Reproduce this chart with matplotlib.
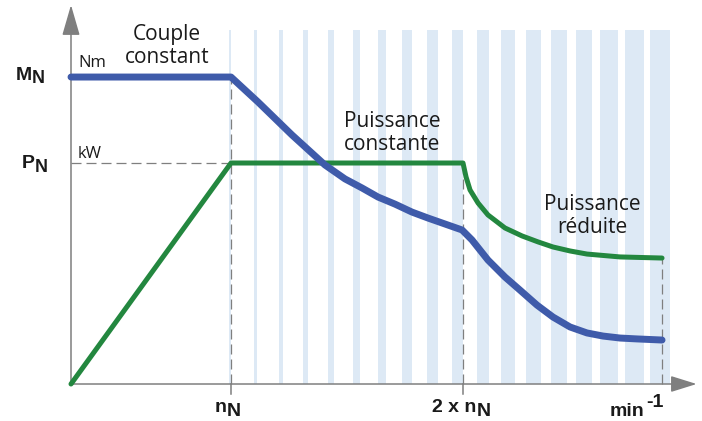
import matplotlib
matplotlib.use("Agg")
import matplotlib.pyplot as plt
import numpy as np

# speed axis in multiples of n_N (schematic), torque / power normalised to P_N
M_N = 1.39
P_N = 1.0
x_nN = 1.0
x_2nN = 2.45
x_max = 3.694

# torque curve (Nm)
torque_x = [0.0, 1.0, 1.169, 1.381, 1.5875, 1.7125, 1.819, 1.919, 2.025,
            2.131, 2.231, 2.3375, 2.444, 2.506, 2.606, 2.7125, 2.806, 2.9125,
            3.0125, 3.119, 3.225, 3.325, 3.431, 3.5375, 3.694]
torque_y = [1.389, 1.389, 1.276, 1.127, 0.991, 0.928, 0.887, 0.846, 0.814,
            0.778, 0.751, 0.724, 0.697, 0.652, 0.561, 0.484, 0.425, 0.357,
            0.303, 0.258, 0.231, 0.217, 0.208, 0.204, 0.199]

# power curve (kW)
power_x = [0.0, 1.0, 2.45, 2.469, 2.494, 2.544, 2.606, 2.7125, 2.819, 2.919,
           3.0125, 3.119, 3.225, 3.431, 3.694]
power_y = [0.0, 1.0, 1.0, 0.937, 0.878, 0.819, 0.765, 0.706, 0.670, 0.643,
           0.620, 0.602, 0.588, 0.575, 0.570]

BLUE = '#3f5baa'
GREEN = '#23873f'
STRIPE = '#dde9f5'
GREY = '#7f7f7f'

fig = plt.figure(figsize=(7.02, 4.21), dpi=100)
ax = fig.add_axes([0, 0, 1, 1])
ax.set_xlim(-0.44375, 3.94375)
ax.set_ylim(-0.1674, 1.7376)
ax.axis('off')

# background stripes, getting wider with speed (field weakening zone)
n_stripes = 18
lefts = 0.9875 + 0.15475 * np.arange(n_stripes)
widths = (2 + 1.06 * np.arange(n_stripes)) / 160
ax.bar(lefts, 1.60, width=widths, align='edge', color=STRIPE, zorder=0)

# dashed guides
dash = dict(color=GREY, lw=0.9, ls=(0, (8, 4)), zorder=1)
ax.plot([0, x_nN], [P_N, P_N], **dash)
ax.plot([x_nN, x_nN], [0, M_N], **dash)
ax.plot([x_2nN, x_2nN], [0, P_N], **dash)
ax.plot([x_max, x_max], [0, power_y[-1]], **dash)

# ticks under the speed axis
for xt in (x_nN, x_2nN):
    ax.plot([xt, xt], [0, -0.045], color=GREY, lw=1.1, zorder=2)

# axes with arrows
ax.annotate('', xy=(3.91, 0), xytext=(0, 0),
            arrowprops=dict(arrowstyle='-|>,head_length=1.6,head_width=0.5',
                            color=GREY, lw=1.1, shrinkA=0, shrinkB=0), zorder=2)
ax.annotate('', xy=(0, 1.715), xytext=(0, 0),
            arrowprops=dict(arrowstyle='-|>,head_length=1.9,head_width=0.55',
                            color=GREY, lw=1.1, shrinkA=0, shrinkB=0), zorder=2)

# curves
ax.plot(torque_x, torque_y, color=BLUE, lw=5, solid_capstyle='round',
        solid_joinstyle='round', zorder=4)
ax.plot(power_x, power_y, color=GREEN, lw=3.6, solid_capstyle='round',
        solid_joinstyle='round', zorder=3)

# text
reg = dict(family='Open Sans', color='#1a1a1a')
bold = dict(family='Liberation Sans', weight='bold', color='#1a1a1a')

ax.text(0.6, 1.53, 'Couple\nconstant', ha='center', va='center',
        fontsize=15, linespacing=1.15, **reg)
ax.text(2.006, 1.136, 'Puissance\nconstante', ha='center', va='center',
        fontsize=15, linespacing=1.15, **reg)
ax.text(3.26, 0.76, 'Puissance\nréduite', ha='center', va='center',
        fontsize=15, linespacing=1.15, **reg)
ax.text(0.044, 1.434, 'Nm', ha='left', va='baseline', fontsize=12, **reg)
ax.text(0.044, 1.023, 'kW', ha='left', va='baseline', fontsize=12, **reg)

# M_N / P_N on the left
ax.text(-0.244, 1.376, 'M', ha='right', va='baseline', fontsize=14, **bold)
ax.text(-0.244, 1.362, 'N', ha='left', va='baseline', fontsize=13, **bold)
ax.text(-0.225, 0.977, 'P', ha='right', va='baseline', fontsize=14, **bold)
ax.text(-0.225, 0.959, 'N', ha='left', va='baseline', fontsize=13, **bold)

# speed labels
ax.text(0.975, -0.127, 'n', ha='right', va='baseline', fontsize=14, **bold)
ax.text(0.975, -0.146, 'N', ha='left', va='baseline', fontsize=14, **bold)
ax.text(2.535, -0.127, '2 x n', ha='right', va='baseline', fontsize=14, **bold)
ax.text(2.535, -0.146, 'N', ha='left', va='baseline', fontsize=14, **bold)
ax.text(3.478, -0.146, 'min', ha='center', va='baseline', fontsize=14, **bold)
ax.text(3.65, -0.105, '-1', ha='center', va='baseline', fontsize=14, **bold)

fig.savefig('out.png', dpi=100, facecolor='white')
